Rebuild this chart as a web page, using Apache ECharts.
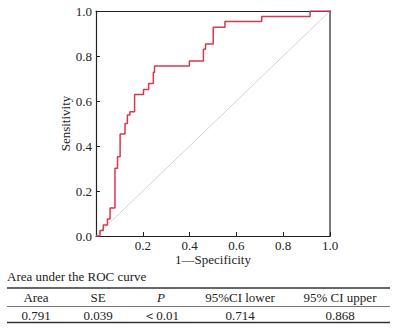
<!DOCTYPE html>
<html>
<head>
<meta charset="utf-8">
<script src="https://cdn.jsdelivr.net/npm/echarts@6/dist/echarts.min.js"></script>
<style>
  html, body { margin: 0; padding: 0; background: #ffffff; }
  #chart { width: 394px; height: 334px; }
</style>
</head>
<body>
<div id="chart"></div>
<script>
// ROC curve: false positive rate (1 - specificity) and true positive rate (sensitivity)
const fprValues = [0, 0.017, 0.031, 0.049, 0.060, 0.081, 0.092, 0.103, 0.124, 0.134, 0.145,
  0.165, 0.203, 0.225, 0.245, 0.250, 0.399, 0.459, 0.468, 0.501, 0.551, 0.708, 0.915, 1.0];
const tprValues = [0, 0.024, 0.049, 0.076, 0.124, 0.301, 0.352, 0.453, 0.500, 0.538, 0.552,
  0.629, 0.651, 0.678, 0.728, 0.756, 0.778, 0.830, 0.853, 0.928, 0.953, 0.976, 1.0, 1.0];

// Chance line
const refLine = [[0, 0], [1, 1]];

// Summary table
const tableTitle = 'Area under the ROC curve';
const tableHeaders = ['Area', 'SE', 'P', '95%CI lower', '95% CI upper'];
const tableValues = ['0.791', '0.039', '＜0.01', '0.714', '0.868'];

const serif = '"Liberation Serif", "Times New Roman", serif';
const textColor = '#222';

const rocPoints = fprValues.map((x, i) => [x, tprValues[i]]);

const colCenters = [36, 98, 161, 240, 340];
const tableGraphics = [
  { type: 'text', left: 7, top: 270,
    style: { text: tableTitle, font: '13px ' + serif, fill: textColor } },
  { type: 'line', shape: { x1: 7, y1: 288, x2: 390, y2: 288 },
    style: { stroke: '#333', lineWidth: 1.5 } },
  { type: 'line', shape: { x1: 7, y1: 306.5, x2: 390, y2: 306.5 },
    style: { stroke: '#555', lineWidth: 0.8 } },
  { type: 'line', shape: { x1: 7, y1: 322.5, x2: 390, y2: 322.5 },
    style: { stroke: '#333', lineWidth: 1.5 } }
];
tableHeaders.forEach((h, i) => {
  tableGraphics.push({
    type: 'text', x: colCenters[i], y: 297.5,
    style: { text: h, font: (h === 'P' ? 'italic ' : '') + '13px ' + serif, fill: textColor,
             textAlign: 'center', textVerticalAlign: 'middle' }
  });
});
tableValues.forEach((v, i) => {
  tableGraphics.push({
    type: 'text', x: colCenters[i], y: 315,
    style: { text: v, font: '13px ' + serif, fill: textColor,
             textAlign: 'center', textVerticalAlign: 'middle' }
  });
});

const chart = echarts.init(document.getElementById('chart'), null, { renderer: 'svg' });

const tickLabel = { fontFamily: serif, fontSize: 13, color: textColor };

chart.setOption({
  animation: false,
  backgroundColor: '#ffffff',
  grid: { left: 96, right: 64, top: 11, bottom: 98 },
  xAxis: [
    {
      type: 'value', min: 0, max: 1, interval: 0.2,
      name: '1—Specificity', nameLocation: 'middle', nameGap: 17, nameMoveOverlap: false,
      nameTextStyle: { fontFamily: serif, fontSize: 13, color: textColor },
      axisLine: { show: true, lineStyle: { color: '#222', width: 1.2 } },
      axisTick: { show: true, inside: true, length: 4, lineStyle: { color: '#222' } },
      // the shared origin is labelled once, on the vertical axis
      axisLabel: Object.assign({ margin: 3, showMinLabel: false,
        formatter: v => (v === 0 ? '' : v.toFixed(1)) }, tickLabel),
      splitLine: { show: false }
    },
    {
      type: 'value', min: 0, max: 1, position: 'top',
      axisLine: { show: true, onZero: false, lineStyle: { color: '#222', width: 1.2 } },
      axisTick: { show: false }, axisLabel: { show: false }, splitLine: { show: false }
    }
  ],
  yAxis: [
    {
      type: 'value', min: 0, max: 1, interval: 0.2,
      name: 'Sensitivity', nameLocation: 'middle', nameGap: 24, nameMoveOverlap: false,
      nameTextStyle: { fontFamily: serif, fontSize: 13, color: textColor },
      axisLine: { show: true, lineStyle: { color: '#222', width: 1.2 } },
      axisTick: { show: true, inside: true, length: 4, lineStyle: { color: '#222' } },
      axisLabel: Object.assign({ margin: 4, formatter: v => v.toFixed(1) }, tickLabel),
      splitLine: { show: false }
    },
    {
      type: 'value', min: 0, max: 1, position: 'right',
      axisLine: { show: true, onZero: false, lineStyle: { color: '#7a7a7a', width: 2 } },
      axisTick: { show: false }, axisLabel: { show: false }, splitLine: { show: false }
    }
  ],
  series: [
    {
      type: 'line', data: refLine, symbol: 'none', silent: true,
      lineStyle: { color: '#cfd3d6', width: 1 }
    },
    {
      type: 'line', data: rocPoints, step: 'end', symbol: 'none',
      lineStyle: { color: '#d9364f', width: 1.5 }
    }
  ],
  graphic: tableGraphics
});
</script>
</body>
</html>
